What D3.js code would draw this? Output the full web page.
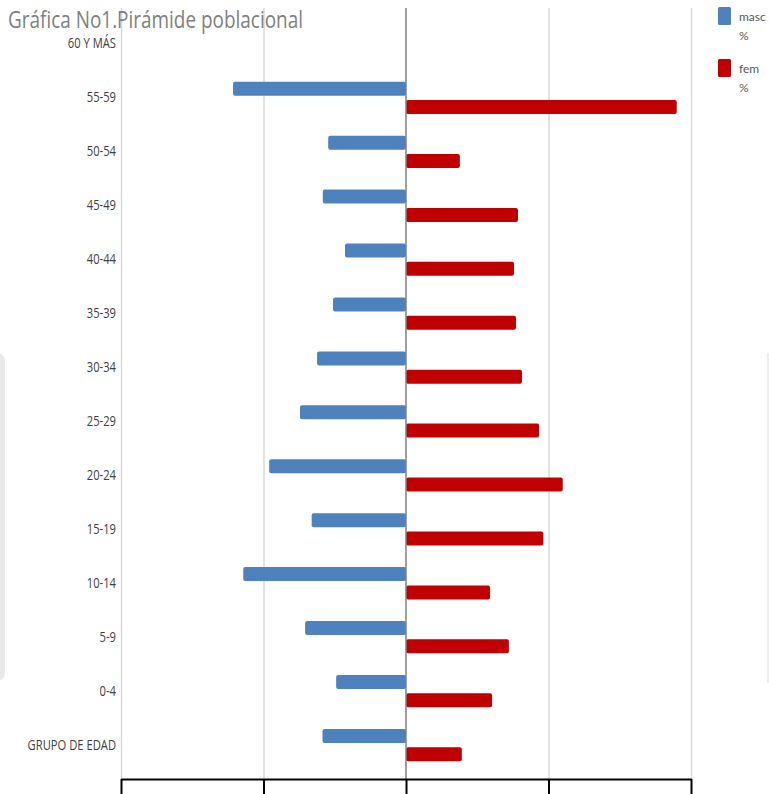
<!DOCTYPE html>
<html>
<head>
<meta charset="utf-8">
<script src="https://cdn.jsdelivr.net/npm/d3@7"></script>
<style>
  html, body { margin: 0; padding: 0; background: #fff; }
  svg { display: block; }
</style>
</head>
<body>
<svg id="chart" width="769" height="794"></svg>
<script>
const categories = ["60 Y MÁS","55-59","50-54","45-49","40-44","35-39","30-34","25-29","20-24","15-19","10-14","5-9","0-4","GRUPO DE EDAD"];
const masc = [0, 6.07, 2.73, 2.92, 2.14, 2.56, 3.12, 3.72, 4.80, 3.31, 5.71, 3.54, 2.45, 2.93];
const fem  = [0, 9.50, 1.89, 3.93, 3.79, 3.86, 4.07, 4.67, 5.50, 4.82, 2.95, 3.61, 3.02, 1.96];
const seriesNames = ["masc", "fem"];
const seriesLabels = [["masc", "%"], ["fem", "%"]];
const gridTicks = [-10, -5, 5, 10];
const axisTicks = [-10, -5, 0, 5, 10];
const titleText = "Gráfica No1.Pirámide poblacional";

const colors = { masc: "#4F81BD", fem: "#C00000" };
const FONT = "'Open Sans', sans-serif";
const LEGEND_FONT = "Lato, 'Open Sans', sans-serif";

const svg = d3.select("#chart");

// faint page artefacts at the edges
svg.append("rect").attr("x", -12).attr("y", 353).attr("width", 17).attr("height", 328)
  .attr("rx", 8).attr("fill", "#e9e9e9");
svg.append("rect").attr("x", 767).attr("y", 353).attr("width", 2).attr("height", 330)
  .attr("fill", "#ededed");

const plotTop = 8, plotBottom = 779;
const x = d3.scaleLinear().domain([-10, 10]).range([121, 691]);
const y = d3.scaleBand().domain(categories).range([17, 772]).paddingInner(0).paddingOuter(0);
const ys = d3.scaleBand().domain(seriesNames).range([0, y.bandwidth()]).paddingInner(0.235).paddingOuter(0.59);

// condensed text helper (emulates the narrow original face)
function condense(sel, ratio) {
  sel.each(function () {
    const len = this.getComputedTextLength();
    d3.select(this).attr("textLength", len * ratio).attr("lengthAdjust", "spacingAndGlyphs");
  });
}

// gridlines
svg.append("g")
  .attr("transform", `translate(0,${plotBottom})`)
  .call(d3.axisBottom(x).tickValues(gridTicks).tickFormat("").tickSize(-(plotBottom - plotTop)).tickSizeOuter(0))
  .call(g => g.select(".domain").remove())
  .call(g => g.selectAll("line").attr("stroke", "#d9d9d9").attr("stroke-width", 1.5));

// bars
const rows = categories.map((c, i) => ({ c, masc: masc[i], fem: fem[i] }));
const groups = svg.append("g").selectAll("g").data(rows).join("g")
  .attr("transform", d => `translate(0,${y(d.c)})`);

groups.filter(d => d.masc > 0).append("rect")
  .attr("x", d => x(-d.masc))
  .attr("y", ys("masc"))
  .attr("width", d => x(0) - x(-d.masc))
  .attr("height", ys.bandwidth())
  .attr("rx", 2)
  .attr("fill", colors.masc);

groups.filter(d => d.fem > 0).append("rect")
  .attr("x", x(0))
  .attr("y", ys("fem"))
  .attr("width", d => x(d.fem) - x(0))
  .attr("height", ys.bandwidth())
  .attr("rx", 2)
  .attr("fill", colors.fem);

// zero line
svg.append("line")
  .attr("x1", x(0)).attr("x2", x(0))
  .attr("y1", plotTop).attr("y2", plotBottom)
  .attr("stroke", "#7f7f7f").attr("stroke-width", 1.5);

// bottom axis
svg.append("g")
  .attr("transform", `translate(0,${plotBottom})`)
  .call(d3.axisBottom(x).tickValues(axisTicks).tickFormat("").tickSize(20).tickSizeOuter(0))
  .call(g => g.select(".domain").attr("stroke", "#000").attr("stroke-width", 2))
  .call(g => g.selectAll(".tick line").attr("stroke", "#000").attr("stroke-width", 2));

// category labels
const yAxis = svg.append("g")
  .attr("transform", `translate(121,0)`)
  .call(d3.axisLeft(y).tickSize(0).tickPadding(5))
  .call(g => g.select(".domain").remove());
yAxis.selectAll("text")
  .attr("font-family", FONT)
  .attr("font-size", 14)
  .attr("fill", "#404040")
  .call(condense, 0.8);

// title
svg.append("text")
  .attr("x", 8).attr("y", 28)
  .attr("font-family", FONT)
  .attr("font-size", 23)
  .attr("fill", "#7f7f7f")
  .attr("textLength", 295)
  .attr("lengthAdjust", "spacingAndGlyphs")
  .text(titleText);

// legend
const legend = svg.append("g");
seriesNames.forEach((s, i) => {
  const gy = 7 + i * 52;
  legend.append("rect")
    .attr("x", 718).attr("y", gy).attr("width", 13).attr("height", 18)
    .attr("rx", 1.5).attr("fill", colors[s]);
  seriesLabels[i].forEach((t, j) => {
    legend.append("text")
      .attr("x", 739).attr("y", gy + 14 + j * 19)
      .attr("font-family", LEGEND_FONT)
      .attr("font-size", 12)
      .attr("fill", "#595959")
      .text(t);
  });
});
</script>
</body>
</html>
